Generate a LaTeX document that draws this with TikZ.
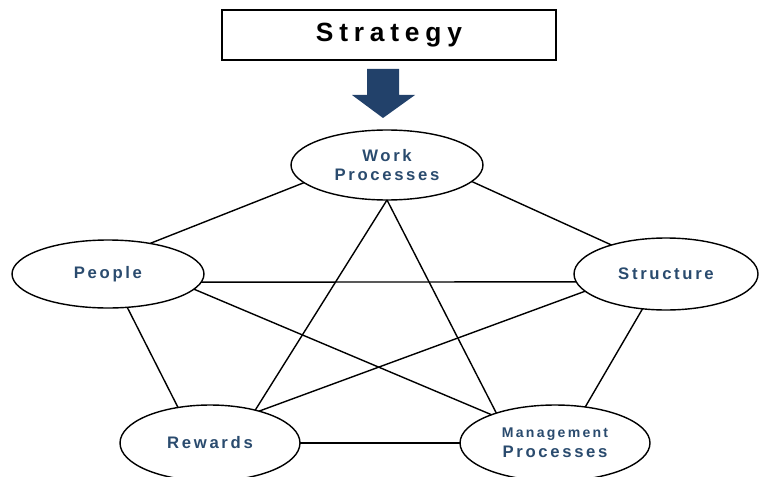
\documentclass[tikz,border=0pt]{standalone}
\usepackage{fontspec}
\setsansfont{Liberation Sans}
\newfontfamily\spacedsans[LetterSpace=16]{Liberation Sans}
\newfontfamily\widesans[LetterSpace=22]{Liberation Sans}
\usetikzlibrary{shapes.geometric}
\definecolor{topicblue}{HTML}{2A4B6E}
\definecolor{arrowblue}{HTML}{22416A}

\begin{document}
\begin{tikzpicture}
[x=0.02cm,y=-0.02cm,
 every node/.style={draw=black,line width=0.8pt,inner sep=0pt,outer sep=0pt,align=center},
 topic/.style={ellipse,text=topicblue,font=\spacedsans\bfseries\fontsize{9.5}{11.3}\selectfont},
 goal/.style={rectangle,minimum width=6.68cm,minimum height=1cm,font=\widesans\bfseries\fontsize{15}{18}\selectfont},
 link/.style={line width=0.8pt}]
\useasboundingbox (0,0) rectangle (759,476);

\node[goal] (strat) at (389,35) {Strategy};
\fill[arrowblue] (367,69) -- (399,69) -- (399,95) -- (415,95) -- (383,118) -- (352,95) -- (367,95) -- cycle;

\node[topic,minimum width=3.84cm,minimum height=1.4cm]  (work)   at (387,165) {Work\\Processes};
\node[topic,minimum width=3.84cm,minimum height=1.36cm] (people) at (108,274) {People};
\node[topic,minimum width=3.68cm,minimum height=1.44cm] (struct) at (666,274) {Structure};
\node[topic,minimum width=3.6cm,minimum height=1.52cm]  (reward) at (210,443) {Rewards};
\node[topic,minimum width=3.8cm,minimum height=1.52cm]  (manage) at (555,443)
  {{\fontsize{8}{11.3}\selectfont Management}\\Processes};

\draw[link] (work.192)   -- (people.36);
\draw[link] (work.-11)   -- (struct.152);
\draw[link] (work.south) -- (reward.36);
\draw[link] (work.south) -- (manage.153);
\draw[link] (people.-5)  -- (struct.185);
\draw[link] (people.-10) -- (manage.156);
\draw[link] (people.-60) -- (reward.132);
\draw[link] (struct.192) -- (reward.33);
\draw[link] (struct.236) -- (manage.50);
\draw[link] (reward.east) -- (manage.west);
\end{tikzpicture}
\end{document}
